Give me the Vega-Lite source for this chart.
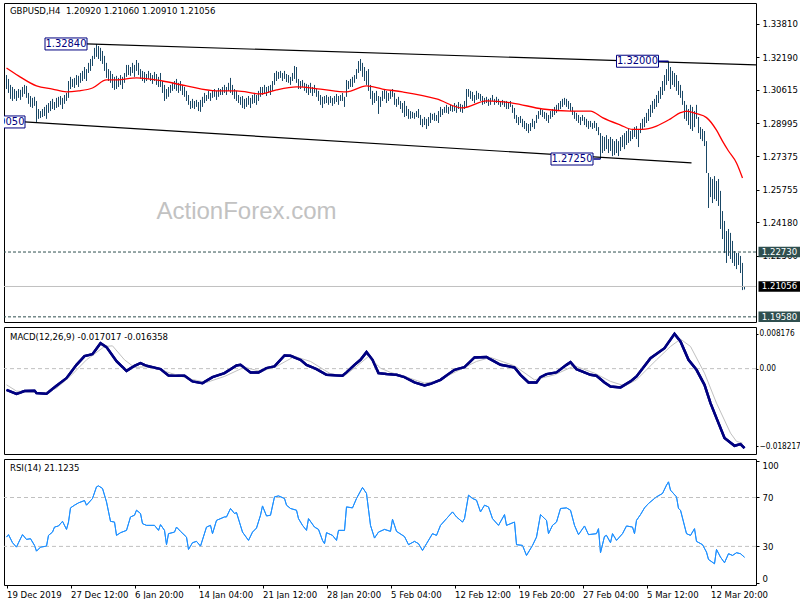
{
"$schema":"https://vega.github.io/schema/vega-lite/v6.json",
"padding":{"left":1,"top":2,"right":0,"bottom":0},
"background":"#ffffff",
"spacing":3,
"config":{
 "view":{"stroke":"#000000","strokeWidth":1},
 "axis":{"labelFont":"DejaVu Sans Condensed, Liberation Sans, sans-serif","labelFontSize":9.5,"labelColor":"#000000","tickColor":"#000000","tickSize":3,"domain":false,"grid":false},
 "text":{"font":"DejaVu Sans Condensed, Liberation Sans, sans-serif"}
},
"datasets":{
 "bars":[
{"i":0,"h":1.3133,"l":1.3065},{"i":1,"h":1.3114,"l":1.3046},{"i":2,"h":1.3085,"l":1.3017},{"i":3,"h":1.3075,"l":1.3007},{"i":4,"h":1.3065,"l":1.3017},
{"i":5,"h":1.3056,"l":1.3007},{"i":6,"h":1.3065,"l":1.3022},{"i":7,"h":1.3061,"l":1.3012},{"i":8,"h":1.3075,"l":1.3027},{"i":9,"h":1.3085,"l":1.3041},
{"i":10,"h":1.3080,"l":1.3022},{"i":11,"h":1.3046,"l":1.2993},{"i":12,"h":1.3031,"l":1.2978},{"i":13,"h":1.3022,"l":1.2973},{"i":14,"h":1.3027,"l":1.2983},
{"i":15,"h":1.3007,"l":1.2905},{"i":16,"h":1.2968,"l":1.2920},{"i":17,"h":1.2958,"l":1.2924},{"i":18,"h":1.2968,"l":1.2929},{"i":19,"h":1.2978,"l":1.2934},
{"i":20,"h":1.2988,"l":1.2920},{"i":21,"h":1.2997,"l":1.2949},{"i":22,"h":1.3007,"l":1.2958},{"i":23,"h":1.3017,"l":1.2968},{"i":24,"h":1.3002,"l":1.2963},
{"i":25,"h":1.3022,"l":1.2973},{"i":26,"h":1.3027,"l":1.2978},{"i":27,"h":1.3031,"l":1.2988},{"i":28,"h":1.3022,"l":1.2968},{"i":29,"h":1.3036,"l":1.2993},
{"i":30,"h":1.3046,"l":1.3007},{"i":31,"h":1.3104,"l":1.3022},{"i":32,"h":1.3124,"l":1.3065},{"i":33,"h":1.3114,"l":1.3075},{"i":34,"h":1.3119,"l":1.3070},
{"i":35,"h":1.3133,"l":1.3085},{"i":36,"h":1.3129,"l":1.3075},{"i":37,"h":1.3143,"l":1.3095},{"i":38,"h":1.3153,"l":1.3104},{"i":39,"h":1.3172,"l":1.3114},
{"i":40,"h":1.3162,"l":1.3104},{"i":41,"h":1.3192,"l":1.3143},{"i":42,"h":1.3211,"l":1.3153},{"i":43,"h":1.3226,"l":1.3177},{"i":44,"h":1.3265,"l":1.3211},
{"i":45,"h":1.3284,"l":1.3221},{"i":46,"h":1.3274,"l":1.3211},{"i":47,"h":1.3265,"l":1.3201},{"i":48,"h":1.3250,"l":1.3187},{"i":49,"h":1.3226,"l":1.3153},
{"i":50,"h":1.3192,"l":1.3119},{"i":51,"h":1.3162,"l":1.3104},{"i":52,"h":1.3153,"l":1.3095},{"i":53,"h":1.3138,"l":1.3070},{"i":54,"h":1.3124,"l":1.3061},
{"i":55,"h":1.3129,"l":1.3065},{"i":56,"h":1.3119,"l":1.3075},{"i":57,"h":1.3133,"l":1.3085},{"i":58,"h":1.3124,"l":1.3065},{"i":59,"h":1.3143,"l":1.3095},
{"i":60,"h":1.3182,"l":1.3124},{"i":61,"h":1.3182,"l":1.3133},{"i":62,"h":1.3172,"l":1.3129},{"i":63,"h":1.3192,"l":1.3143},{"i":64,"h":1.3182,"l":1.3124},
{"i":65,"h":1.3206,"l":1.3153},{"i":66,"h":1.3192,"l":1.3133},{"i":67,"h":1.3162,"l":1.3114},{"i":68,"h":1.3153,"l":1.3104},{"i":69,"h":1.3148,"l":1.3095},
{"i":70,"h":1.3138,"l":1.3104},{"i":71,"h":1.3153,"l":1.3114},{"i":72,"h":1.3143,"l":1.3104},{"i":73,"h":1.3133,"l":1.3090},{"i":74,"h":1.3148,"l":1.3104},
{"i":75,"h":1.3138,"l":1.3085},{"i":76,"h":1.3124,"l":1.3075},{"i":77,"h":1.3143,"l":1.3075},{"i":78,"h":1.3104,"l":1.3046},{"i":79,"h":1.3085,"l":1.3007},
{"i":80,"h":1.3065,"l":1.3017},{"i":81,"h":1.3075,"l":1.3027},{"i":82,"h":1.3085,"l":1.3046},{"i":83,"h":1.3095,"l":1.3056},{"i":84,"h":1.3104,"l":1.3065},
{"i":85,"h":1.3114,"l":1.3056},{"i":86,"h":1.3095,"l":1.3046},{"i":87,"h":1.3104,"l":1.3056},{"i":88,"h":1.3085,"l":1.3036},{"i":89,"h":1.3075,"l":1.3027},
{"i":90,"h":1.3056,"l":1.3007},{"i":91,"h":1.3036,"l":1.2988},{"i":92,"h":1.3007,"l":1.2968},{"i":93,"h":1.3017,"l":1.2973},{"i":94,"h":1.3007,"l":1.2968},
{"i":95,"h":1.3012,"l":1.2978},{"i":96,"h":1.3002,"l":1.2958},{"i":97,"h":1.3012,"l":1.2954},{"i":98,"h":1.3027,"l":1.2978},{"i":99,"h":1.3046,"l":1.2997},
{"i":100,"h":1.3036,"l":1.3007},{"i":101,"h":1.3056,"l":1.3017},{"i":102,"h":1.3046,"l":1.3007},{"i":103,"h":1.3056,"l":1.3022},{"i":104,"h":1.3065,"l":1.3027},
{"i":105,"h":1.3056,"l":1.3012},{"i":106,"h":1.3070,"l":1.3027},{"i":107,"h":1.3065,"l":1.3036},{"i":108,"h":1.3075,"l":1.3036},{"i":109,"h":1.3085,"l":1.3046},
{"i":110,"h":1.3075,"l":1.3036},{"i":111,"h":1.3095,"l":1.3056},{"i":112,"h":1.3119,"l":1.3046},{"i":113,"h":1.3085,"l":1.3036},{"i":114,"h":1.3065,"l":1.3017},
{"i":115,"h":1.3056,"l":1.3007},{"i":116,"h":1.3036,"l":1.2997},{"i":117,"h":1.3027,"l":1.2988},{"i":118,"h":1.3031,"l":1.2973},{"i":119,"h":1.3017,"l":1.2968},
{"i":120,"h":1.3022,"l":1.2978},{"i":121,"h":1.3031,"l":1.2988},{"i":122,"h":1.3022,"l":1.2973},{"i":123,"h":1.3036,"l":1.2993},{"i":124,"h":1.3046,"l":1.2997},
{"i":125,"h":1.3036,"l":1.2988},{"i":126,"h":1.3056,"l":1.3007},{"i":127,"h":1.3075,"l":1.3027},{"i":128,"h":1.3075,"l":1.3036},{"i":129,"h":1.3085,"l":1.3041},
{"i":130,"h":1.3075,"l":1.3031},{"i":131,"h":1.3080,"l":1.3046},{"i":132,"h":1.3085,"l":1.3036},{"i":133,"h":1.3104,"l":1.3056},{"i":134,"h":1.3143,"l":1.3085},
{"i":135,"h":1.3153,"l":1.3104},{"i":136,"h":1.3148,"l":1.3114},{"i":137,"h":1.3153,"l":1.3119},{"i":138,"h":1.3143,"l":1.3104},{"i":139,"h":1.3153,"l":1.3114},
{"i":140,"h":1.3138,"l":1.3099},{"i":141,"h":1.3133,"l":1.3095},{"i":142,"h":1.3124,"l":1.3085},{"i":143,"h":1.3143,"l":1.3104},{"i":144,"h":1.3177,"l":1.3114},
{"i":145,"h":1.3172,"l":1.3095},{"i":146,"h":1.3114,"l":1.3065},{"i":147,"h":1.3104,"l":1.3065},{"i":148,"h":1.3109,"l":1.3075},{"i":149,"h":1.3095,"l":1.3056},
{"i":150,"h":1.3090,"l":1.3046},{"i":151,"h":1.3085,"l":1.3036},{"i":152,"h":1.3095,"l":1.3046},{"i":153,"h":1.3075,"l":1.3031},{"i":154,"h":1.3085,"l":1.3046},
{"i":155,"h":1.3065,"l":1.3027},{"i":156,"h":1.3056,"l":1.3007},{"i":157,"h":1.3036,"l":1.2988},{"i":158,"h":1.3027,"l":1.2973},{"i":159,"h":1.3031,"l":1.2993},
{"i":160,"h":1.3036,"l":1.2997},{"i":161,"h":1.3027,"l":1.2988},{"i":162,"h":1.3031,"l":1.2997},{"i":163,"h":1.3022,"l":1.2983},{"i":164,"h":1.3031,"l":1.2993},
{"i":165,"h":1.3041,"l":1.3002},{"i":166,"h":1.3031,"l":1.2988},{"i":167,"h":1.3036,"l":1.3007},{"i":168,"h":1.3046,"l":1.3007},{"i":169,"h":1.3027,"l":1.2978},
{"i":170,"h":1.3109,"l":1.3027},{"i":171,"h":1.3104,"l":1.3065},{"i":172,"h":1.3114,"l":1.3075},{"i":173,"h":1.3124,"l":1.3075},{"i":174,"h":1.3133,"l":1.3095},
{"i":175,"h":1.3162,"l":1.3114},{"i":176,"h":1.3201,"l":1.3143},{"i":177,"h":1.3211,"l":1.3153},{"i":178,"h":1.3192,"l":1.3124},{"i":179,"h":1.3172,"l":1.3104},
{"i":180,"h":1.3153,"l":1.3085},{"i":181,"h":1.3162,"l":1.3056},{"i":182,"h":1.3085,"l":1.3017},{"i":183,"h":1.3056,"l":1.2988},{"i":184,"h":1.3046,"l":1.2997},
{"i":185,"h":1.3056,"l":1.3007},{"i":186,"h":1.3031,"l":1.2944},{"i":187,"h":1.3027,"l":1.2978},{"i":188,"h":1.3056,"l":1.3007},{"i":189,"h":1.3065,"l":1.3017},
{"i":190,"h":1.3056,"l":1.2997},{"i":191,"h":1.3046,"l":1.3007},{"i":192,"h":1.3056,"l":1.3017},{"i":193,"h":1.3065,"l":1.3027},{"i":194,"h":1.3046,"l":1.2988},
{"i":195,"h":1.3017,"l":1.2978},{"i":196,"h":1.3027,"l":1.2988},{"i":197,"h":1.3007,"l":1.2968},{"i":198,"h":1.2997,"l":1.2949},{"i":199,"h":1.3007,"l":1.2929},
{"i":200,"h":1.2983,"l":1.2934},{"i":201,"h":1.2968,"l":1.2920},{"i":202,"h":1.2958,"l":1.2920},{"i":203,"h":1.2954,"l":1.2924},{"i":204,"h":1.2949,"l":1.2920},
{"i":205,"h":1.2958,"l":1.2929},{"i":206,"h":1.2968,"l":1.2924},{"i":207,"h":1.2939,"l":1.2890},{"i":208,"h":1.2920,"l":1.2880},{"i":209,"h":1.2929,"l":1.2890},
{"i":210,"h":1.2920,"l":1.2871},{"i":211,"h":1.2929,"l":1.2885},{"i":212,"h":1.2949,"l":1.2900},{"i":213,"h":1.2944,"l":1.2915},{"i":214,"h":1.2949,"l":1.2910},
{"i":215,"h":1.2939,"l":1.2910},{"i":216,"h":1.2958,"l":1.2900},{"i":217,"h":1.2978,"l":1.2929},{"i":218,"h":1.2968,"l":1.2939},{"i":219,"h":1.2978,"l":1.2949},
{"i":220,"h":1.2988,"l":1.2949},{"i":221,"h":1.2978,"l":1.2944},{"i":222,"h":1.2988,"l":1.2958},{"i":223,"h":1.2983,"l":1.2954},{"i":224,"h":1.2997,"l":1.2958},
{"i":225,"h":1.2988,"l":1.2949},{"i":226,"h":1.3002,"l":1.2968},{"i":227,"h":1.2993,"l":1.2954},{"i":228,"h":1.2988,"l":1.2949},{"i":229,"h":1.3007,"l":1.2968},
{"i":230,"h":1.3065,"l":1.2978},{"i":231,"h":1.3065,"l":1.3027},{"i":232,"h":1.3056,"l":1.3017},{"i":233,"h":1.3051,"l":1.3007},{"i":234,"h":1.3036,"l":1.2997},
{"i":235,"h":1.3056,"l":1.3012},{"i":236,"h":1.3046,"l":1.3017},{"i":237,"h":1.3041,"l":1.3007},{"i":238,"h":1.3031,"l":1.2988},{"i":239,"h":1.3022,"l":1.2993},
{"i":240,"h":1.3027,"l":1.2997},{"i":241,"h":1.3017,"l":1.2983},{"i":242,"h":1.3022,"l":1.2988},{"i":243,"h":1.3036,"l":1.3007},{"i":244,"h":1.3017,"l":1.2988},
{"i":245,"h":1.3027,"l":1.2997},{"i":246,"h":1.3017,"l":1.2988},{"i":247,"h":1.3007,"l":1.2978},{"i":248,"h":1.3012,"l":1.2988},{"i":249,"h":1.3007,"l":1.2978},
{"i":250,"h":1.3007,"l":1.2968},{"i":251,"h":1.2997,"l":1.2968},{"i":252,"h":1.3007,"l":1.2978},{"i":253,"h":1.2988,"l":1.2949},{"i":254,"h":1.2973,"l":1.2920},
{"i":255,"h":1.2939,"l":1.2900},{"i":256,"h":1.2929,"l":1.2890},{"i":257,"h":1.2934,"l":1.2900},{"i":258,"h":1.2920,"l":1.2880},{"i":259,"h":1.2910,"l":1.2871},
{"i":260,"h":1.2900,"l":1.2861},{"i":261,"h":1.2895,"l":1.2851},{"i":262,"h":1.2900,"l":1.2861},{"i":263,"h":1.2920,"l":1.2880},{"i":264,"h":1.2910,"l":1.2871},
{"i":265,"h":1.2939,"l":1.2900},{"i":266,"h":1.2958,"l":1.2920},{"i":267,"h":1.2968,"l":1.2939},{"i":268,"h":1.2963,"l":1.2929},{"i":269,"h":1.2954,"l":1.2920},
{"i":270,"h":1.2949,"l":1.2910},{"i":271,"h":1.2939,"l":1.2900},{"i":272,"h":1.2958,"l":1.2920},{"i":273,"h":1.2968,"l":1.2929},{"i":274,"h":1.2978,"l":1.2939},
{"i":275,"h":1.2988,"l":1.2949},{"i":276,"h":1.2997,"l":1.2958},{"i":277,"h":1.3007,"l":1.2968},{"i":278,"h":1.3017,"l":1.2978},{"i":279,"h":1.3022,"l":1.2988},
{"i":280,"h":1.3017,"l":1.2978},{"i":281,"h":1.3007,"l":1.2968},{"i":282,"h":1.2997,"l":1.2958},{"i":283,"h":1.2978,"l":1.2939},{"i":284,"h":1.2958,"l":1.2920},
{"i":285,"h":1.2949,"l":1.2910},{"i":286,"h":1.2939,"l":1.2900},{"i":287,"h":1.2929,"l":1.2890},{"i":288,"h":1.2939,"l":1.2910},{"i":289,"h":1.2929,"l":1.2890},
{"i":290,"h":1.2920,"l":1.2880},{"i":291,"h":1.2910,"l":1.2871},{"i":292,"h":1.2910,"l":1.2880},{"i":293,"h":1.2900,"l":1.2871},{"i":294,"h":1.2910,"l":1.2876},
{"i":295,"h":1.2900,"l":1.2861},{"i":296,"h":1.2880,"l":1.2841},{"i":297,"h":1.2851,"l":1.2725},{"i":298,"h":1.2837,"l":1.2754},{"i":299,"h":1.2832,"l":1.2764},
{"i":300,"h":1.2841,"l":1.2773},{"i":301,"h":1.2822,"l":1.2754},{"i":302,"h":1.2832,"l":1.2764},{"i":303,"h":1.2822,"l":1.2739},{"i":304,"h":1.2812,"l":1.2744},
{"i":305,"h":1.2822,"l":1.2754},{"i":306,"h":1.2812,"l":1.2739},{"i":307,"h":1.2832,"l":1.2764},{"i":308,"h":1.2841,"l":1.2783},{"i":309,"h":1.2851,"l":1.2773},
{"i":310,"h":1.2861,"l":1.2793},{"i":311,"h":1.2871,"l":1.2803},{"i":312,"h":1.2861,"l":1.2812},{"i":313,"h":1.2871,"l":1.2822},{"i":314,"h":1.2880,"l":1.2832},
{"i":315,"h":1.2885,"l":1.2822},{"i":316,"h":1.2871,"l":1.2783},{"i":317,"h":1.2900,"l":1.2851},{"i":318,"h":1.2920,"l":1.2871},{"i":319,"h":1.2929,"l":1.2880},
{"i":320,"h":1.2949,"l":1.2900},{"i":321,"h":1.2968,"l":1.2910},{"i":322,"h":1.2988,"l":1.2929},{"i":323,"h":1.3007,"l":1.2949},{"i":324,"h":1.3017,"l":1.2968},
{"i":325,"h":1.3036,"l":1.2978},{"i":326,"h":1.3056,"l":1.2997},{"i":327,"h":1.3075,"l":1.3017},{"i":328,"h":1.3104,"l":1.3036},{"i":329,"h":1.3133,"l":1.3056},
{"i":330,"h":1.3162,"l":1.3085},{"i":331,"h":1.3200,"l":1.3104},{"i":332,"h":1.3172,"l":1.3065},{"i":333,"h":1.3153,"l":1.3085},{"i":334,"h":1.3143,"l":1.3075},
{"i":335,"h":1.3133,"l":1.3056},{"i":336,"h":1.3104,"l":1.3036},{"i":337,"h":1.3085,"l":1.3022},{"i":338,"h":1.3056,"l":1.2988},{"i":339,"h":1.3007,"l":1.2920},
{"i":340,"h":1.2988,"l":1.2910},{"i":341,"h":1.2968,"l":1.2890},{"i":342,"h":1.2988,"l":1.2871},{"i":343,"h":1.2978,"l":1.2861},{"i":344,"h":1.2958,"l":1.2880},
{"i":345,"h":1.2988,"l":1.2920},{"i":346,"h":1.2929,"l":1.2851},{"i":347,"h":1.2880,"l":1.2822},{"i":348,"h":1.2871,"l":1.2812},{"i":349,"h":1.2861,"l":1.2788},
{"i":350,"h":1.2812,"l":1.2657},{"i":351,"h":1.2657,"l":1.2487},{"i":352,"h":1.2637,"l":1.2540},{"i":353,"h":1.2628,"l":1.2511},{"i":354,"h":1.2642,"l":1.2530},
{"i":355,"h":1.2618,"l":1.2521},{"i":356,"h":1.2628,"l":1.2497},{"i":357,"h":1.2570,"l":1.2385},{"i":358,"h":1.2472,"l":1.2336},{"i":359,"h":1.2424,"l":1.2268},
{"i":360,"h":1.2375,"l":1.2220},{"i":361,"h":1.2385,"l":1.2254},{"i":362,"h":1.2366,"l":1.2239},{"i":363,"h":1.2327,"l":1.2220},{"i":364,"h":1.2278,"l":1.2205},
{"i":365,"h":1.2268,"l":1.2190},{"i":366,"h":1.2268,"l":1.2210},{"i":367,"h":1.2254,"l":1.2171},{"i":368,"h":1.2220,"l":1.2088},{"i":369,"h":1.2106,"l":1.2091}
 ],
 "ma":[
{"i":0,"v":1.3167},{"i":6,"v":1.3129},{"i":15,"v":1.3080},{"i":23,"v":1.3065},{"i":30,"v":1.3051},{"i":36,"v":1.3056},{"i":43,"v":1.3070},{"i":50,"v":1.3109},{"i":55,"v":1.3109},{"i":65,"v":1.3119},{"i":78,"v":1.3104},{"i":90,"v":1.3080},{"i":105,"v":1.3056},{"i":115,"v":1.3056},{"i":127,"v":1.3041},{"i":135,"v":1.3061},{"i":145,"v":1.3075},{"i":157,"v":1.3065},{"i":170,"v":1.3051},{"i":180,"v":1.3080},{"i":188,"v":1.3065},{"i":198,"v":1.3051},{"i":215,"v":1.3017},{"i":228,"v":1.2973},{"i":240,"v":1.3007},{"i":253,"v":1.2997},{"i":268,"v":1.2968},{"i":282,"v":1.2958},{"i":292,"v":1.2958},{"i":298,"v":1.2926},{"i":307,"v":1.2890},{"i":313,"v":1.2869},{"i":318,"v":1.2869},{"i":325,"v":1.2885},{"i":332,"v":1.2920},{"i":337,"v":1.2950},{"i":340,"v":1.2958},{"i":345,"v":1.2945},{"i":350,"v":1.2926},{"i":355,"v":1.2865},{"i":358,"v":1.2812},{"i":361,"v":1.2764},{"i":365,"v":1.2706},{"i":368,"v":1.2633}
 ],
 "trend":[
{"g":"top","i":40,"p":1.3284},{"g":"top","i":374.75,"p":1.3182},{"g":"bottom","i":9,"p":1.2905},{"g":"bottom","i":342.5,"p":1.2706}
 ],
 "tags":[
{"t":"1.32840","i":29.75,"p":1.3284},{"t":"1.32000","i":315.5,"p":1.3200},{"t":"1.27250","i":282.75,"p":1.2725},{"t":"1.29050","i":-1.25,"p":1.2905}
 ],
 "links":[
{"a":326,"b":331,"p":1.3200},{"a":293.5,"b":297,"p":1.2725}
 ],
 "levels":[{"p":1.2273,"t":"1.22730"},{"p":1.1958,"t":"1.19580"}],
 "last":[{"p":1.21056,"t":"1.21056"}],
 "macd":[
{"i":0,"v":-0.00499},{"i":5,"v":-0.00593},{"i":9,"v":-0.00529},{"i":14,"v":-0.00522},{"i":15,"v":-0.00576},{"i":20,"v":-0.00593},{"i":25,"v":-0.00405},{"i":30,"v":-0.00224},{"i":35,"v":0.00089},{"i":39,"v":0.00294},{"i":43,"v":0.00341},{"i":47,"v":0.006},{"i":50,"v":0.00506},{"i":55,"v":0.00176},{"i":60,"v":-0.00052},{"i":64,"v":0.00066},{"i":67,"v":0.00129},{"i":70,"v":0.00066},{"i":77,"v":-0.00012},{"i":81,"v":-0.0016},{"i":89,"v":-0.00169},{"i":93,"v":-0.00301},{"i":98,"v":-0.00341},{"i":103,"v":-0.002},{"i":109,"v":-0.00106},{"i":115,"v":0.00075},{"i":117,"v":0.00089},{"i":122,"v":-0.00089},{"i":126,"v":-0.00089},{"i":130,"v":0.00012},{"i":134,"v":0.00052},{"i":139,"v":0.00311},{"i":142,"v":0.00301},{"i":147,"v":0.00207},{"i":150,"v":0.00089},{"i":155,"v":-0.00012},{"i":160,"v":-0.00146},{"i":168,"v":-0.00169},{"i":170,"v":-0.00089},{"i":174,"v":0.00089},{"i":177,"v":0.00207},{"i":180,"v":0.00388},{"i":183,"v":0.00207},{"i":186,"v":-0.00106},{"i":190,"v":-0.00129},{"i":195,"v":-0.00146},{"i":199,"v":-0.002},{"i":204,"v":-0.00325},{"i":209,"v":-0.00395},{"i":212,"v":-0.00358},{"i":217,"v":-0.00264},{"i":224,"v":-0.00028},{"i":229,"v":0.00035},{"i":234,"v":0.00264},{"i":240,"v":0.00271},{"i":247,"v":0.00089},{"i":254,"v":0.00028},{"i":257,"v":-0.00146},{"i":261,"v":-0.00325},{"i":265,"v":-0.00325},{"i":267,"v":-0.002},{"i":270,"v":-0.00129},{"i":275,"v":-0.00089},{"i":280,"v":0.00089},{"i":282,"v":0.00153},{"i":285,"v":-0.00012},{"i":292,"v":-0.00146},{"i":295,"v":-0.00169},{"i":299,"v":-0.00325},{"i":302,"v":-0.00419},{"i":307,"v":-0.00442},{"i":312,"v":-0.00301},{"i":315,"v":-0.00184},{"i":322,"v":0.00247},{"i":329,"v":0.00482},{"i":334,"v":0.00818},{"i":337,"v":0.0064},{"i":341,"v":0.00207},{"i":345,"v":-0.00028},{"i":349,"v":-0.00381},{"i":352,"v":-0.00812},{"i":355,"v":-0.01165},{"i":359,"v":-0.01635},{"i":364,"v":-0.01816},{"i":367,"v":-0.01776},{"i":369,"v":-0.01871}
 ],
 "sig":[
{"i":0,"v":-0.00381},{"i":5,"v":-0.00529},{"i":19,"v":-0.00576},{"i":25,"v":-0.00459},{"i":32,"v":-0.00176},{"i":40,"v":0.00207},{"i":49,"v":0.00522},{"i":53,"v":0.00536},{"i":59,"v":0.00207},{"i":64,"v":0.00028},{"i":72,"v":0.00052},{"i":82,"v":-0.00106},{"i":92,"v":-0.00247},{"i":100,"v":-0.00325},{"i":109,"v":-0.00184},{"i":119,"v":0.00035},{"i":127,"v":-0.00066},{"i":135,"v":0.00052},{"i":144,"v":0.00287},{"i":152,"v":0.00169},{"i":162,"v":-0.00122},{"i":169,"v":-0.00169},{"i":175,"v":0.00052},{"i":181,"v":0.00287},{"i":187,"v":0.00012},{"i":192,"v":-0.00089},{"i":199,"v":-0.00184},{"i":209,"v":-0.00341},{"i":215,"v":-0.00301},{"i":225,"v":-0.00066},{"i":235,"v":0.00169},{"i":242,"v":0.00264},{"i":254,"v":0.00066},{"i":264,"v":-0.00264},{"i":274,"v":-0.00146},{"i":284,"v":0.00066},{"i":294,"v":-0.00106},{"i":302,"v":-0.00301},{"i":309,"v":-0.00405},{"i":315,"v":-0.00264},{"i":325,"v":0.00207},{"i":332,"v":0.00522},{"i":337,"v":0.00694},{"i":342,"v":0.00522},{"i":349,"v":-0.00106},{"i":355,"v":-0.00812},{"i":362,"v":-0.01518},{"i":365,"v":-0.01713},{"i":368,"v":-0.01753}
 ],
 "rsi":[
{"i":0,"v":37.6},{"i":1,"v":39.6},{"i":3,"v":33},{"i":5,"v":29.4},{"i":6,"v":33},{"i":8,"v":39.6},{"i":10,"v":35.7},{"i":12,"v":36.3},{"i":14,"v":30.8},{"i":15,"v":26.1},{"i":17,"v":29.4},{"i":20,"v":30.2},{"i":21,"v":39},{"i":23,"v":41.7},{"i":24,"v":45.8},{"i":26,"v":46.7},{"i":28,"v":50.5},{"i":30,"v":43.9},{"i":31,"v":49.9},{"i":32,"v":61.5},{"i":34,"v":63.7},{"i":36,"v":65.6},{"i":39,"v":67.5},{"i":40,"v":63.7},{"i":43,"v":69.2},{"i":45,"v":78.7},{"i":46,"v":79.5},{"i":48,"v":77.4},{"i":50,"v":66.4},{"i":52,"v":50.5},{"i":54,"v":49.9},{"i":55,"v":39},{"i":57,"v":41.2},{"i":60,"v":43.1},{"i":62,"v":54.1},{"i":64,"v":55.5},{"i":65,"v":59.6},{"i":67,"v":56.9},{"i":68,"v":48.6},{"i":70,"v":47.2},{"i":74,"v":47.2},{"i":76,"v":43.1},{"i":77,"v":47.8},{"i":79,"v":43.1},{"i":80,"v":31.4},{"i":81,"v":40.4},{"i":84,"v":41.7},{"i":85,"v":45.8},{"i":87,"v":42.3},{"i":90,"v":37.6},{"i":91,"v":27.5},{"i":93,"v":33},{"i":95,"v":34.1},{"i":97,"v":30.2},{"i":100,"v":45.8},{"i":102,"v":47.2},{"i":103,"v":40.4},{"i":105,"v":51.3},{"i":109,"v":54.1},{"i":110,"v":54.1},{"i":112,"v":61},{"i":114,"v":56.9},{"i":115,"v":57.7},{"i":118,"v":41.7},{"i":121,"v":34.9},{"i":123,"v":41.7},{"i":125,"v":45},{"i":127,"v":55.5},{"i":128,"v":63.1},{"i":130,"v":54.9},{"i":132,"v":55.5},{"i":134,"v":70.5},{"i":136,"v":71.3},{"i":139,"v":69.2},{"i":140,"v":63.7},{"i":142,"v":61},{"i":145,"v":59.6},{"i":146,"v":52.7},{"i":148,"v":47.2},{"i":150,"v":43.1},{"i":151,"v":52.7},{"i":154,"v":45.8},{"i":156,"v":43.9},{"i":158,"v":34.9},{"i":159,"v":32.2},{"i":160,"v":41.2},{"i":163,"v":39},{"i":165,"v":34.9},{"i":166,"v":43.1},{"i":169,"v":43.1},{"i":170,"v":62.3},{"i":173,"v":61.5},{"i":175,"v":69.2},{"i":178,"v":78.2},{"i":180,"v":73.3},{"i":182,"v":47.2},{"i":184,"v":36.8},{"i":186,"v":41.7},{"i":189,"v":43.9},{"i":192,"v":42.3},{"i":193,"v":52.2},{"i":195,"v":42.3},{"i":199,"v":38},{"i":201,"v":31.4},{"i":204,"v":34.1},{"i":206,"v":32.2},{"i":208,"v":26.7},{"i":210,"v":32.2},{"i":213,"v":40.4},{"i":215,"v":39},{"i":217,"v":47.2},{"i":220,"v":52.7},{"i":223,"v":58.2},{"i":225,"v":54.1},{"i":228,"v":49.9},{"i":229,"v":52.7},{"i":231,"v":71.9},{"i":233,"v":69.2},{"i":235,"v":67.8},{"i":237,"v":58.2},{"i":239,"v":63.7},{"i":241,"v":62.3},{"i":243,"v":52.7},{"i":246,"v":47.2},{"i":249,"v":56},{"i":250,"v":47.2},{"i":254,"v":49.9},{"i":255,"v":31.4},{"i":258,"v":30.8},{"i":260,"v":22.6},{"i":263,"v":30.8},{"i":265,"v":37.6},{"i":267,"v":56},{"i":270,"v":51.3},{"i":271,"v":40.4},{"i":273,"v":47.2},{"i":275,"v":49.9},{"i":277,"v":61},{"i":280,"v":61.5},{"i":282,"v":59.6},{"i":284,"v":47.2},{"i":286,"v":39.6},{"i":289,"v":46.7},{"i":291,"v":39.6},{"i":295,"v":40.4},{"i":296,"v":44.5},{"i":297,"v":24.8},{"i":299,"v":38.2},{"i":300,"v":39},{"i":302,"v":33},{"i":303,"v":40.4},{"i":305,"v":34.9},{"i":308,"v":40.4},{"i":310,"v":46.7},{"i":313,"v":45.8},{"i":314,"v":40.4},{"i":315,"v":51.3},{"i":317,"v":56},{"i":319,"v":61.5},{"i":321,"v":65.1},{"i":324,"v":69.2},{"i":325,"v":70.5},{"i":328,"v":73.3},{"i":330,"v":80.1},{"i":331,"v":82.8},{"i":332,"v":76},{"i":335,"v":70.5},{"i":336,"v":61},{"i":337,"v":59.6},{"i":340,"v":40.4},{"i":342,"v":39},{"i":344,"v":44.5},{"i":345,"v":34.1},{"i":348,"v":31.4},{"i":350,"v":25.3},{"i":351,"v":19.3},{"i":354,"v":15.8},{"i":355,"v":27.5},{"i":357,"v":21.2},{"i":359,"v":16.6},{"i":361,"v":24},{"i":363,"v":22.6},{"i":365,"v":24.8},{"i":367,"v":24},{"i":369,"v":21.1}
 ],
 "mlev":[{"v":0}],
 "rlev":[{"v":70},{"v":30}]
},
"vconcat":[
 {
  "width":752,"height":319,
  "layer":[
   {"data":{"name":"bars"},"mark":{"type":"rule","color":"#1a4866","strokeWidth":1},
    "encoding":{
     "x":{"field":"i","type":"quantitative","scale":{"domain":[-1.25,374.75],"nice":false,"zero":false},"axis":null,"title":null},
     "y":{"field":"h","type":"quantitative","scale":{"domain":[1.1933,1.3483],"nice":false,"zero":false},"title":null,
      "axis":{"orient":"right","values":[1.3381,1.3219,1.30615,1.28995,1.27375,1.25755,1.2418,1.2256],"format":".5f","labelPadding":3,"tickSize":3}},
     "y2":{"field":"l"}}},
   {"data":{"name":"levels"},"mark":{"type":"rule","color":"#2f4f4f","strokeWidth":1,"strokeDash":[3,2]},
    "encoding":{"y":{"field":"p","type":"quantitative","title":null}}},
   {"data":{"name":"last"},"mark":{"type":"rule","color":"#c0c0c0","strokeWidth":1},
    "encoding":{"y":{"field":"p","type":"quantitative","title":null}}},
   {"data":{"name":"trend"},"mark":{"type":"line","color":"#000000","strokeWidth":1.2},
    "encoding":{"x":{"field":"i","type":"quantitative","axis":null,"title":null},"y":{"field":"p","type":"quantitative","title":null},"detail":{"field":"g"}}},
   {"data":{"name":"ma"},"mark":{"type":"line","color":"#ff0000","strokeWidth":1.3,"interpolate":"monotone"},
    "encoding":{"x":{"field":"i","type":"quantitative","axis":null,"title":null},"y":{"field":"v","type":"quantitative","title":null}}},
   {"data":{"name":"links"},"mark":{"type":"rule","color":"#000080","strokeWidth":1.5},
    "encoding":{"x":{"field":"a","type":"quantitative","axis":null,"title":null},"x2":{"field":"b"},"y":{"field":"p","type":"quantitative","title":null}}},
   {"data":{"name":"tags"},"mark":{"type":"point","shape":"M-1.75,-0.5H1.75V0.5H-1.75Z","size":576,"filled":true,"fill":"#ffffff","stroke":"#000080","strokeWidth":1,"opacity":1,"clip":true},
    "encoding":{"x":{"field":"i","type":"quantitative","axis":null,"title":null},"y":{"field":"p","type":"quantitative","title":null}}},
   {"data":{"name":"tags"},"mark":{"type":"text","color":"#000080","fontSize":11,"align":"center","baseline":"middle","clip":true},
    "encoding":{"x":{"field":"i","type":"quantitative","axis":null,"title":null},"y":{"field":"p","type":"quantitative","title":null},"text":{"field":"t"}}},
   {"data":{"values":[{"t":"ActionForex.com","i":120,"p":1.2468}]},"mark":{"type":"text","color":"#c2c2c2","fontSize":24,"font":"Liberation Sans","align":"center","baseline":"middle"},
    "encoding":{"x":{"field":"i","type":"quantitative","axis":null,"title":null},"y":{"field":"p","type":"quantitative","title":null},"text":{"field":"t"}}},
   {"data":{"values":[{"t":"GBPUSD,H4\u00a0 1.20920 1.21060 1.20910 1.21056","i":1.75,"p":1.3444}]},"mark":{"type":"text","color":"#000000","fontSize":9.5,"align":"left","baseline":"middle"},
    "encoding":{"x":{"field":"i","type":"quantitative","axis":null,"title":null},"y":{"field":"p","type":"quantitative","title":null},"text":{"field":"t"}}},
   {"data":{"name":"levels"},"mark":{"type":"point","shape":"M-2,-0.5H2V0.5H-2Z","size":441,"filled":true,"color":"#2f4f4f","opacity":1},
    "encoding":{"x":{"datum":386.5,"type":"quantitative","axis":null},"y":{"field":"p","type":"quantitative","title":null}}},
   {"data":{"name":"last"},"mark":{"type":"point","shape":"M-2,-0.5H2V0.5H-2Z","size":441,"filled":true,"color":"#000000","opacity":1},
    "encoding":{"x":{"datum":386.5,"type":"quantitative","axis":null},"y":{"field":"p","type":"quantitative","title":null}}},
   {"data":{"name":"levels"},"mark":{"type":"text","color":"#ffffff","fontSize":9.5,"align":"center","baseline":"middle"},
    "encoding":{"x":{"datum":386.5,"type":"quantitative","axis":null},"y":{"field":"p","type":"quantitative","title":null},"text":{"field":"t"}}},
   {"data":{"name":"last"},"mark":{"type":"text","color":"#ffffff","fontSize":9.5,"align":"center","baseline":"middle"},
    "encoding":{"x":{"datum":386.5,"type":"quantitative","axis":null},"y":{"field":"p","type":"quantitative","title":null},"text":{"field":"t"}}}
  ]
 },
 {
  "width":752,"height":127,
  "layer":[
   {"data":{"name":"macd"},"mark":{"type":"line","color":"#000080","strokeWidth":2.5},
    "encoding":{
     "x":{"field":"i","type":"quantitative","scale":{"domain":[-1.25,374.75],"nice":false,"zero":false},"axis":null,"title":null},
     "y":{"field":"v","type":"quantitative","scale":{"domain":[-0.0201,0.0098],"nice":false,"zero":false},"title":null,
      "axis":{"orient":"right","values":[0.008176,0,-0.018217],"labelExpr":"datum.value == 0 ? '0.00' : format(datum.value, '.6f')","labelPadding":1,"tickSize":2,"labelFontSize":8.2}}}},
   {"data":{"name":"mlev"},"mark":{"type":"rule","color":"#c0c0c0","strokeWidth":1,"strokeDash":[4,3]},
    "encoding":{"y":{"field":"v","type":"quantitative","title":null}}},
   {"data":{"name":"sig"},"mark":{"type":"line","color":"#c0c0c0","strokeWidth":1},
    "encoding":{"x":{"field":"i","type":"quantitative","axis":null,"title":null},"y":{"field":"v","type":"quantitative","title":null}}},
   {"data":{"name":"macd"},"mark":{"type":"line","color":"#000080","strokeWidth":2.5},
    "encoding":{"x":{"field":"i","type":"quantitative","axis":null,"title":null},"y":{"field":"v","type":"quantitative","title":null}}},
   {"data":{"values":[{"t":"MACD(12,26,9) -0.017017 -0.016358","i":1.75,"v":0.0074}]},"mark":{"type":"text","color":"#000000","fontSize":9.5,"align":"left","baseline":"middle"},
    "encoding":{"x":{"field":"i","type":"quantitative","axis":null,"title":null},"y":{"field":"v","type":"quantitative","title":null},"text":{"field":"t"}}}
  ]
 },
 {
  "width":752,"height":126,
  "layer":[
   {"data":{"name":"rsi"},"mark":{"type":"line","color":"#1e90ff","strokeWidth":1},
    "encoding":{
     "x":{"field":"i","type":"quantitative","scale":{"domain":[-1.25,374.75],"nice":false,"zero":false},"title":null,
      "axis":{"orient":"bottom","values":[0,32,64,96,128,160,192,224,256,288,320,352],"labelExpr":"['19 Dec 2019','27 Dec 12:00','6 Jan 20:00','14 Jan 04:00','21 Jan 12:00','28 Jan 20:00','5 Feb 04:00','12 Feb 12:00','19 Feb 20:00','27 Feb 04:00','5 Mar 12:00','12 Mar 20:00'][round(datum.value/32)]","labelAlign":"left","labelPadding":1,"tickSize":3,"labelOverlap":false,"labelFlush":false}},
     "y":{"field":"v","type":"quantitative","scale":{"domain":[-1.6,101.5],"nice":false,"zero":false},"title":null,
      "axis":{"orient":"right","values":[100,70,30,0],"labelPadding":3,"tickSize":3,"labelFlush":5}}}},
   {"data":{"name":"rlev"},"mark":{"type":"rule","color":"#c0c0c0","strokeWidth":1,"strokeDash":[4,3]},
    "encoding":{"y":{"field":"v","type":"quantitative","title":null}}},
   {"data":{"name":"rsi"},"mark":{"type":"line","color":"#1e90ff","strokeWidth":1},
    "encoding":{"x":{"field":"i","type":"quantitative","title":null},"y":{"field":"v","type":"quantitative","title":null}}},
   {"data":{"values":[{"t":"RSI(14) 21.1235","i":1.75,"v":94.1}]},"mark":{"type":"text","color":"#000000","fontSize":9.5,"align":"left","baseline":"middle"},
    "encoding":{"x":{"field":"i","type":"quantitative","title":null},"y":{"field":"v","type":"quantitative","title":null},"text":{"field":"t"}}}
  ]
 }
]
}
